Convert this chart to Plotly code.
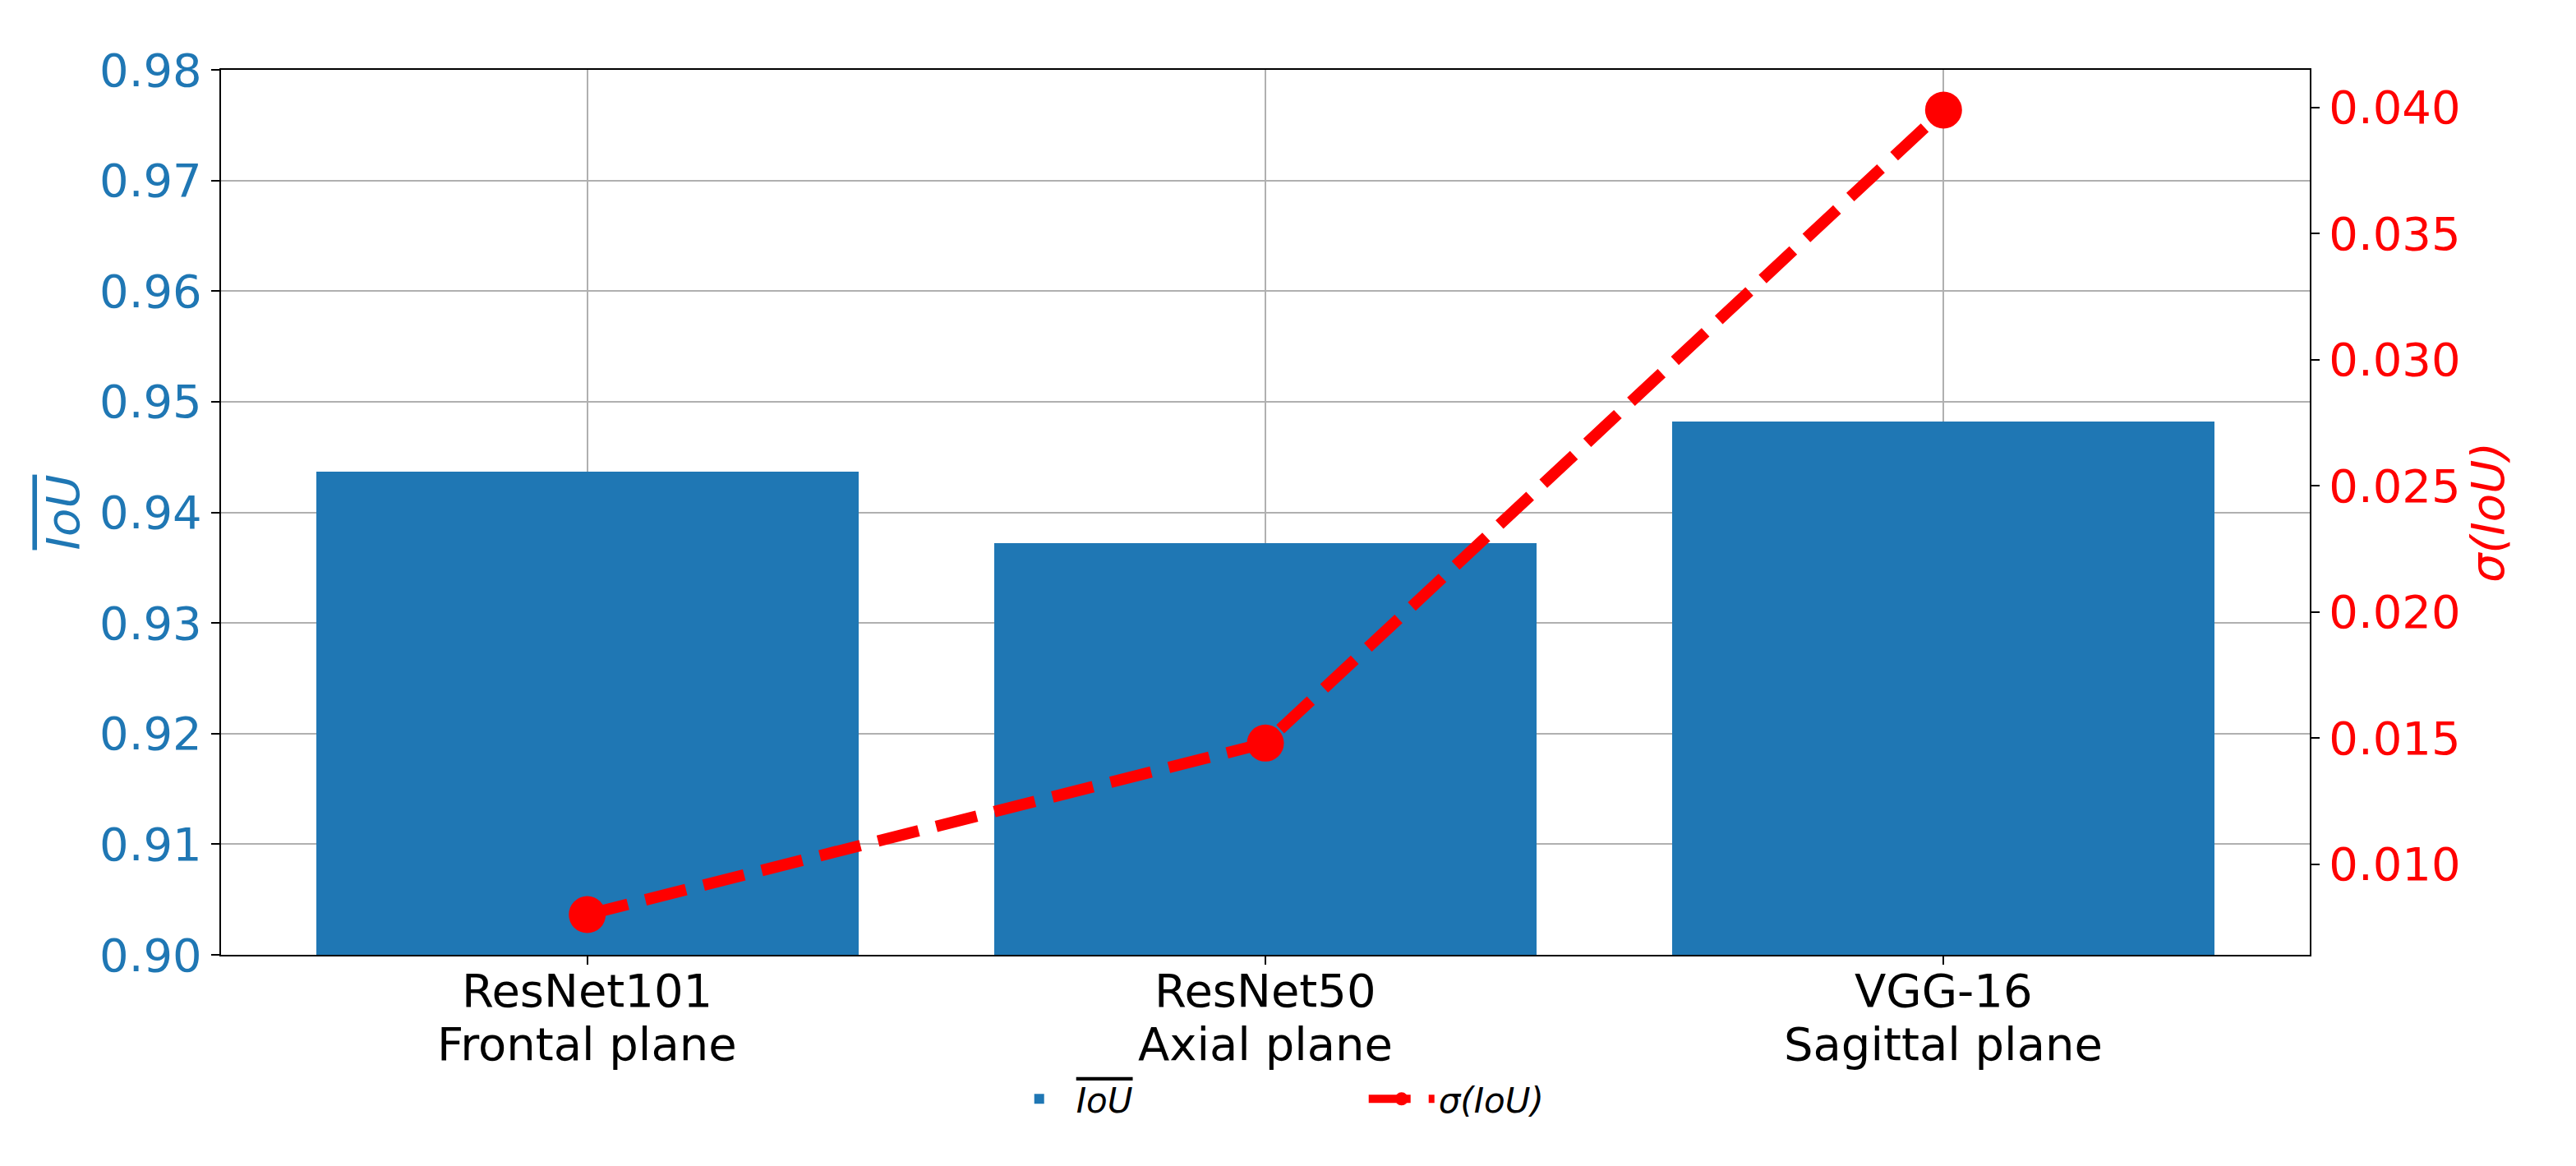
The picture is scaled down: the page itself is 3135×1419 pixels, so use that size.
import plotly.graph_objects as go

cat_line1 = ["ResNet101", "ResNet50", "VGG-16"]
cat_line2 = ["Frontal plane", "Axial plane", "Sagittal plane"]
iou_mean = [0.9437, 0.9372, 0.9482]
iou_std = [0.0080, 0.0148, 0.0399]
left_ticks = [0.90, 0.91, 0.92, 0.93, 0.94, 0.95, 0.96, 0.97, 0.98]
right_ticks = [0.010, 0.015, 0.020, 0.025, 0.030, 0.035, 0.040]

BLUE = "#1f77b4"
RED = "#ff0000"
FONT = "DejaVu Sans"
xpos = list(range(len(cat_line1)))
IOU_BAR = "<i><span style='text-decoration:overline'>IoU</span></i>"

fig = go.Figure()
fig.add_trace(go.Bar(
    x=xpos, y=iou_mean, width=0.8, marker=dict(color=BLUE, line=dict(width=0)),
    name=IOU_BAR, yaxis="y",
))
fig.add_trace(go.Scatter(
    x=xpos, y=iou_std, mode="lines+markers",
    line=dict(color=RED, width=14, dash="51px,22px"),
    marker=dict(color=RED, size=45, symbol="circle"),
    name="<i>σ(IoU)</i>", yaxis="y2",
))

span = max(iou_std) - min(iou_std)
r2 = [min(iou_std) - 0.05 * span, max(iou_std) + 0.05 * span]

axis_common = dict(
    showline=True, linecolor="black", linewidth=2.2,
    ticks="outside", ticklen=10, tickwidth=2.2, tickcolor="black",
    zeroline=False, automargin=False,
)

annotations = []
for i in xpos:
    annotations.append(dict(x=i, xref="x", y=0, yref="paper", text=cat_line1[i],
                            showarrow=False, yanchor="middle", yshift=-43,
                            font=dict(family=FONT, size=56, color="black")))
    annotations.append(dict(x=i, xref="x", y=0, yref="paper", text=cat_line2[i],
                            showarrow=False, yanchor="middle", yshift=-108,
                            font=dict(family=FONT, size=56, color="black")))

fig.update_layout(
    width=3135, height=1419,
    paper_bgcolor="white", plot_bgcolor="white",
    margin=dict(l=269, r=324, t=85, b=257, autoexpand=False),
    font=dict(family=FONT, size=56, color="black"),
    bargap=0,
    annotations=annotations,
    xaxis=dict(
        **axis_common, mirror=True,
        range=[-0.54, 2.54], tickvals=xpos, showticklabels=False,
        showgrid=True, gridcolor="#b0b0b0", gridwidth=2.2,
    ),
    yaxis=dict(
        **axis_common,
        range=[0.90, 0.98], tickvals=left_ticks, tickformat=".2f",
        showgrid=True, gridcolor="#b0b0b0", gridwidth=2.2,
        tickfont=dict(size=56, color=BLUE),
        title=dict(text=IOU_BAR, font=dict(size=56, color=BLUE), standoff=6),
    ),
    yaxis2=dict(
        **axis_common, overlaying="y", side="right",
        range=r2, tickvals=right_ticks, tickformat=".3f",
        showgrid=False,
        tickfont=dict(size=56, color=RED),
        title=dict(text="<i>σ(IoU)</i>", font=dict(size=56, color=RED), standoff=8),
    ),
    legend=dict(
        orientation="h", x=0.374, xanchor="left", y=-0.163, yanchor="middle",
        font=dict(size=42, color="black"), itemwidth=80,
        entrywidth=346, entrywidthmode="pixels",
        bgcolor="rgba(0,0,0,0)",
    ),
)

fig.write_html("out.html", config={"displayModeBar": False},
               post_script="document.body.style.margin='0';")
